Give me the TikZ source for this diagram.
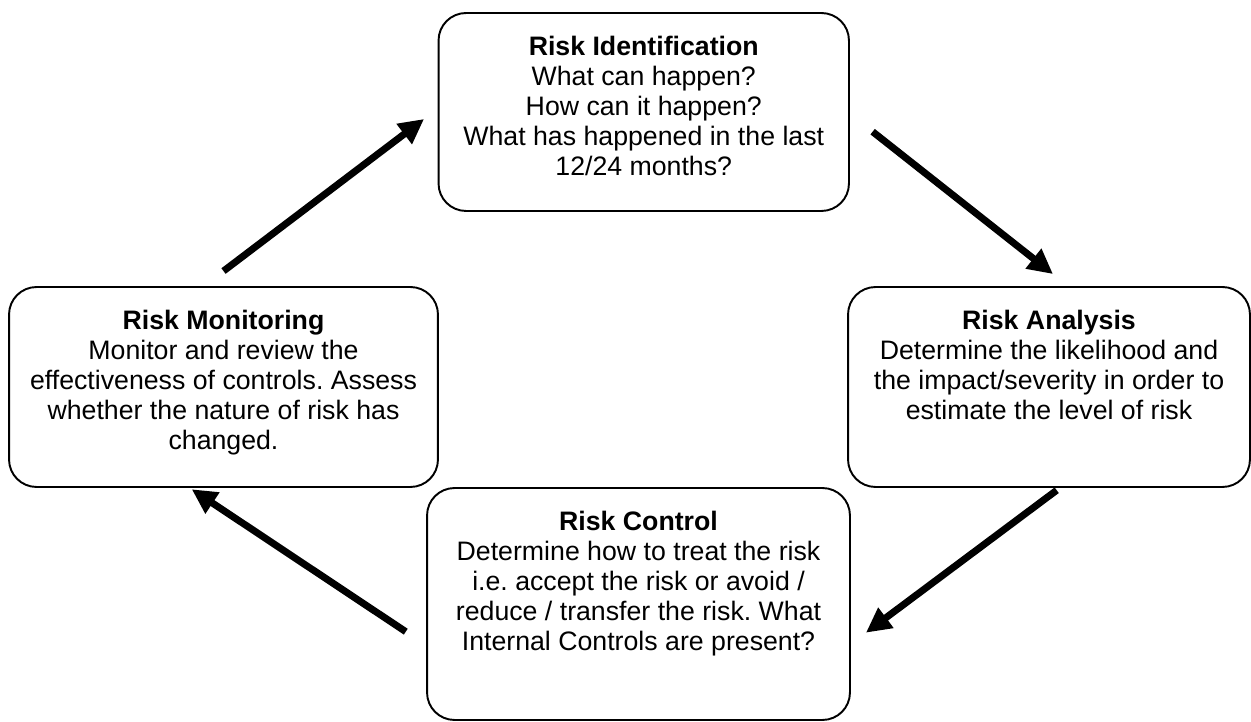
\documentclass[tikz,border=0pt]{standalone}
\usepackage{fontspec}
\setmainfont{Liberation Sans}
\frenchspacing
\usetikzlibrary{arrows.meta}
\tikzset{
  riskbox/.style={draw, line width=1.1pt, rounded corners=0.55cm, inner sep=0pt,
    font=\fontsize{15.2pt}{17.1pt}\selectfont},
  flow/.style={line width=0.14cm, -{Triangle[length=0.5cm,width=0.48cm]}}
}
% box text: height, width, title, body
\newcommand{\riskstep}[4]{\parbox[c][#1][t]{#2}{\centering\rule{0pt}{0.84cm}\textbf{#3}\\#4}}

\begin{document}
\begin{tikzpicture}[x=0.02cm, y=-0.02cm]
\useasboundingbox (0,0) rectangle (1251,722);
% the four steps
\node[riskbox] (ident) at (643.75,112) {\riskstep{3.96cm}{8.21cm}{Risk Identification}{What can happen?\\How can it happen?\\What has happened in the last\\12/24 months?}};
\node[riskbox] (analysis) at (1049,387) {\riskstep{4cm}{8.04cm}{Risk Analysis}{Determine the likelihood and\\the impact/severity in order to\\estimate the level of risk}};
\node[riskbox] (control) at (638.5,604) {\riskstep{4.64cm}{8.46cm}{Risk Control}{Determine how to treat the risk\\i.e. accept the risk or avoid /\\reduce / transfer the risk. What\\Internal Controls are present?}};
\node[riskbox] (monitor) at (223.5,387) {\riskstep{4cm}{8.58cm}{Risk Monitoring}{Monitor and review the\\effectiveness of controls. Assess\\whether the nature of risk has\\changed.}};
% arrows round the cycle
\draw[flow] ([yshift=0.3cm]monitor.north) -- ([xshift=-0.27cm,yshift=-0.14cm]ident.west);
\draw[flow] ([xshift=0.454cm,yshift=-0.394cm]ident.east) -- ([xshift=0.08cm,yshift=0.24cm]analysis.north);
\draw[flow] ([xshift=0.154cm,yshift=-0.046cm]analysis.south) -- ([xshift=0.3cm,yshift=-0.574cm]control.east);
\draw[flow] ([xshift=-0.406cm,yshift=-0.554cm]control.west) -- ([xshift=-0.636cm,yshift=-0.026cm]monitor.south);
\end{tikzpicture}
\end{document}
